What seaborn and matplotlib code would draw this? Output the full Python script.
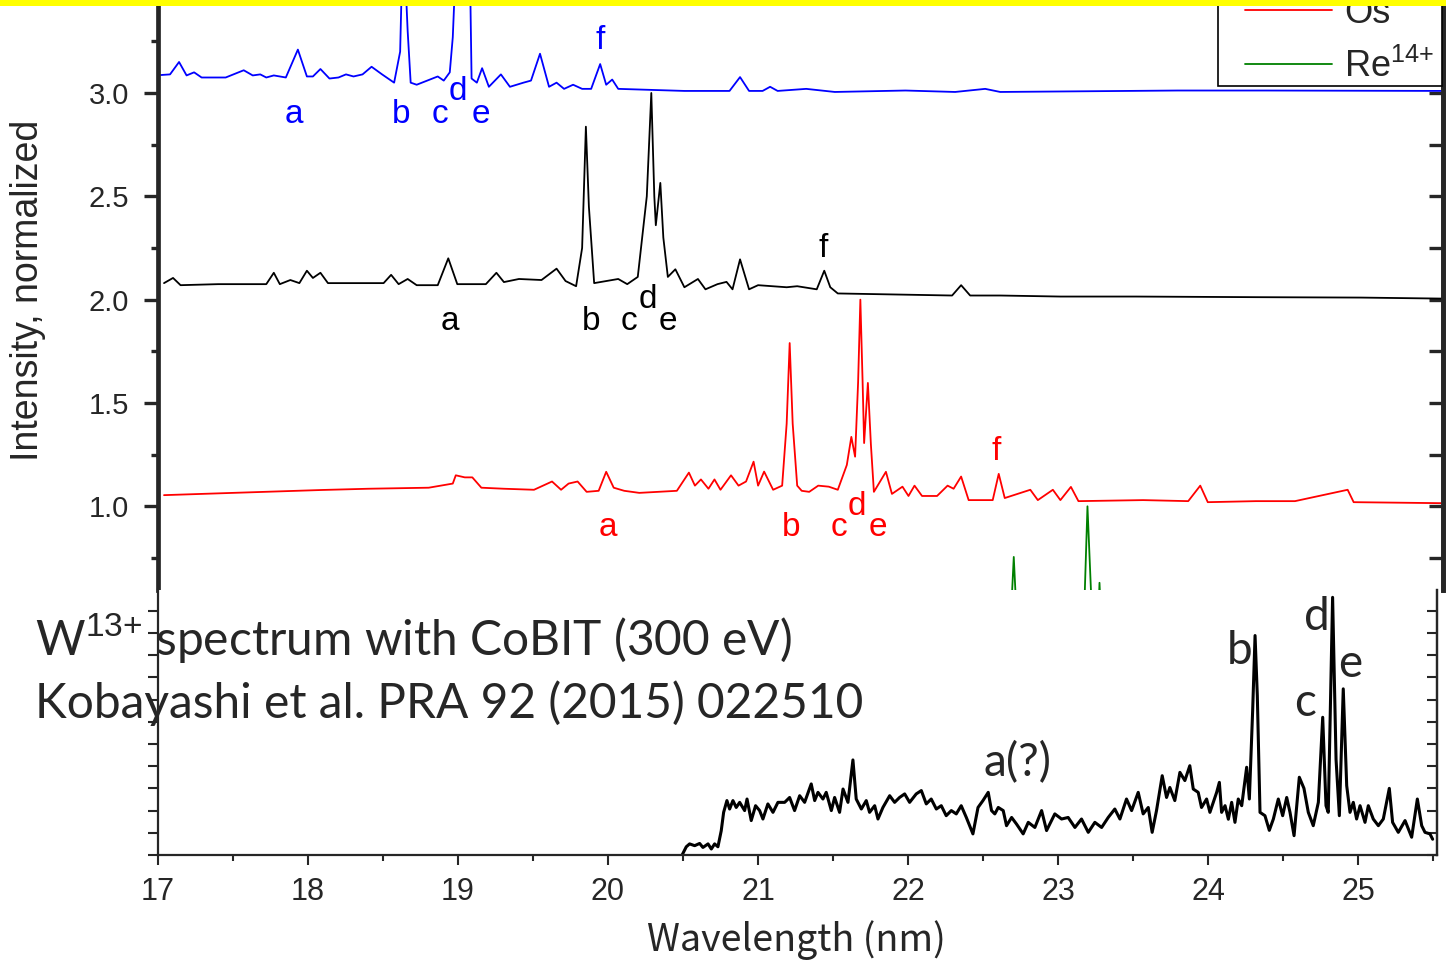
import matplotlib
matplotlib.use("Agg")
import matplotlib.pyplot as plt
import seaborn as sns
from matplotlib.patches import Rectangle

# ---------------- data ----------------
# top panel: normalized spectra, offset by 2 (blue), 1 (black), 0 (red)
w_blue = [17.02, 17.08, 17.14, 17.19, 17.24, 17.29, 17.45, 17.57, 17.63, 17.68, 17.72, 17.77,
          17.85, 17.93, 17.99, 18.03, 18.08, 18.14, 18.20, 18.25, 18.30, 18.36, 18.42, 18.49,
          18.57, 18.61, 18.63, 18.66, 18.68, 18.72, 18.79, 18.86, 18.90, 18.94, 18.96, 18.99,
          19.03, 19.07, 19.085, 19.12, 19.155, 19.20, 19.28, 19.34, 19.43, 19.48, 19.54, 19.60,
          19.65, 19.70, 19.76, 19.82, 19.88, 19.94, 19.98, 20.02, 20.06, 20.50, 20.80, 20.87,
          20.93, 21.02, 21.07, 21.12, 21.31, 21.50, 21.97, 22.30, 22.50, 22.60, 23.78, 24.08,
          24.36, 25.55]
i_blue = [3.087, 3.09, 3.15, 3.085, 3.10, 3.075, 3.075, 3.11, 3.085, 3.09, 3.075, 3.085,
          3.075, 3.21, 3.08, 3.08, 3.116, 3.07, 3.075, 3.09, 3.08, 3.09, 3.127, 3.09,
          3.05, 3.20, 3.80, 3.30, 3.05, 3.04, 3.06, 3.08, 3.06, 3.10, 3.27, 3.80,
          3.60, 3.80, 3.07, 3.05, 3.12, 3.03, 3.09, 3.03, 3.05, 3.06, 3.19, 3.03,
          3.05, 3.02, 3.04, 3.02, 3.02, 3.14, 3.04, 3.065, 3.02, 3.01, 3.01, 3.077,
          3.01, 3.01, 3.03, 3.01, 3.02, 3.005, 3.012, 3.005, 3.02, 3.005, 3.012, 3.012,
          3.012, 3.01]

w_black = [17.04, 17.10, 17.15, 17.40, 17.60, 17.72, 17.77, 17.81, 17.88, 17.94, 17.99, 18.03,
           18.08, 18.13, 18.50, 18.55, 18.60, 18.66, 18.72, 18.86, 18.93, 18.99, 19.18, 19.25,
           19.30, 19.40, 19.55, 19.65, 19.71, 19.78, 19.82, 19.845, 19.865, 19.90, 20.06, 20.12,
           20.19, 20.22, 20.25, 20.28, 20.30, 20.31, 20.34, 20.36, 20.39, 20.44, 20.50, 20.59,
           20.64, 20.72, 20.78, 20.82, 20.87, 20.93, 20.99, 21.18, 21.25, 21.38, 21.43, 21.47,
           21.52, 21.90, 22.28, 22.34, 22.40, 22.60, 23.00, 23.50, 24.30, 25.00, 25.55]
i_black = [2.08, 2.105, 2.07, 2.075, 2.075, 2.075, 2.13, 2.075, 2.095, 2.08, 2.14, 2.105,
           2.13, 2.08, 2.08, 2.12, 2.075, 2.10, 2.07, 2.07, 2.20, 2.075, 2.075, 2.13,
           2.085, 2.10, 2.095, 2.15, 2.09, 2.065, 2.25, 2.837, 2.45, 2.08, 2.10, 2.075,
           2.11, 2.305, 2.50, 3.00, 2.50, 2.36, 2.565, 2.30, 2.11, 2.147, 2.06, 2.10,
           2.05, 2.075, 2.086, 2.05, 2.195, 2.05, 2.07, 2.06, 2.065, 2.05, 2.14, 2.06,
           2.03, 2.025, 2.02, 2.07, 2.02, 2.02, 2.015, 2.015, 2.012, 2.01, 2.005]

w_os = [17.04, 17.50, 18.09, 18.40, 18.80, 18.96, 18.98, 19.04, 19.09, 19.15, 19.30, 19.50,
        19.62, 19.68, 19.73, 19.79, 19.85, 19.93, 19.98, 20.03, 20.10, 20.20, 20.45, 20.53,
        20.57, 20.61, 20.66, 20.70, 20.74, 20.81, 20.86, 20.91, 20.96, 20.99, 21.03, 21.09,
        21.15, 21.18, 21.20, 21.22, 21.25, 21.28, 21.33, 21.39, 21.46, 21.52, 21.58, 21.61,
        21.635, 21.655, 21.67, 21.685, 21.695, 21.72, 21.74, 21.76, 21.84, 21.88, 21.95, 21.99,
        22.03, 22.08, 22.18, 22.25, 22.29, 22.34, 22.39, 22.55, 22.59, 22.63, 22.80, 22.85,
        22.95, 23.00, 23.07, 23.12, 23.55, 23.85, 23.93, 23.98, 24.30, 24.56, 24.91, 24.95,
        25.55]
i_os = [1.054, 1.065, 1.079, 1.085, 1.09, 1.11, 1.15, 1.14, 1.14, 1.09, 1.085, 1.08,
        1.12, 1.08, 1.11, 1.12, 1.07, 1.075, 1.167, 1.09, 1.075, 1.065, 1.075, 1.163,
        1.10, 1.13, 1.085, 1.13, 1.08, 1.15, 1.10, 1.12, 1.216, 1.10, 1.168, 1.08,
        1.10, 1.40, 1.79, 1.40, 1.10, 1.075, 1.07, 1.10, 1.095, 1.08, 1.20, 1.336,
        1.24, 1.60, 2.00, 1.60, 1.306, 1.597, 1.30, 1.07, 1.167, 1.06, 1.095, 1.05,
        1.10, 1.05, 1.05, 1.10, 1.085, 1.144, 1.03, 1.03, 1.157, 1.04, 1.08, 1.03,
        1.08, 1.03, 1.094, 1.025, 1.03, 1.025, 1.10, 1.02, 1.025, 1.025, 1.08, 1.02,
        1.015]

w_re = [22.00, 22.66, 22.69, 22.72, 23.15, 23.18, 23.22, 23.245, 23.26, 23.28, 25.50]
i_re = [0.30, 0.30, 0.755, 0.30, 0.30, 1.00, 0.30, 0.30, 0.63, 0.30, 0.30]

# bottom panel: W13+ spectrum with CoBIT (arb. units)
w_cobit = [20.495, 20.522, 20.544, 20.578, 20.611, 20.633, 20.667, 20.689, 20.711, 20.733,
           20.755, 20.771, 20.793, 20.811, 20.833, 20.855, 20.878, 20.911, 20.927, 20.955,
           20.984, 21.011, 21.033, 21.066, 21.100, 21.133, 21.178, 21.211, 21.244, 21.278,
           21.311, 21.355, 21.378, 21.400, 21.433, 21.455, 21.489, 21.511, 21.544, 21.567,
           21.600, 21.633, 21.655, 21.689, 21.722, 21.744, 21.778, 21.800, 21.833, 21.878,
           21.911, 21.944, 21.978, 22.011, 22.055, 22.089, 22.122, 22.155, 22.189, 22.222,
           22.255, 22.289, 22.322, 22.355, 22.389, 22.433, 22.467, 22.500,
           22.535, 22.557, 22.579, 22.602, 22.635, 22.657, 22.691, 22.724, 22.768, 22.802,
           22.846, 22.891, 22.924, 22.979, 23.024, 23.068, 23.113, 23.157, 23.202, 23.246,
           23.291, 23.335, 23.379, 23.413, 23.457, 23.491, 23.535, 23.568, 23.602, 23.628,
           23.657, 23.695, 23.724, 23.746, 23.779, 23.813, 23.846, 23.879, 23.902, 23.935,
           23.957, 23.991, 24.013,
           24.058, 24.076, 24.091, 24.114, 24.136, 24.158, 24.180, 24.202, 24.225, 24.258,
           24.276, 24.298, 24.314, 24.329, 24.347, 24.380, 24.409, 24.436, 24.469, 24.498,
           24.525, 24.547, 24.574, 24.609, 24.640, 24.669, 24.702, 24.736, 24.765, 24.787,
           24.802, 24.831, 24.854, 24.876, 24.902, 24.925, 24.947, 24.969, 24.991, 25.014,
           25.047, 25.069, 25.102, 25.136, 25.169, 25.209, 25.231, 25.269, 25.314, 25.358,
           25.396, 25.425, 25.447, 25.480, 25.498]
i_cobit = [0.01, 0.37, 0.50, 0.42, 0.52, 0.34, 0.50, 0.27, 0.50, 0.37,
           1.09, 1.92, 2.45, 2.07, 2.45, 2.14, 2.37, 2.00, 2.52, 1.55,
           2.22, 2.00, 1.62, 2.30, 1.92, 2.37, 2.37, 2.59, 2.00, 2.67,
           2.37, 3.20, 2.45, 2.82, 2.52, 2.82, 2.00, 2.59, 1.92, 2.97,
           2.37, 4.28, 2.52, 2.07, 2.45, 1.92, 2.22, 1.62, 2.14, 2.67,
           2.37, 2.59, 2.75, 2.37, 2.75, 2.90, 2.30, 2.52, 2.07, 2.22,
           1.77, 2.00, 1.85, 2.22, 1.69, 0.95, 2.14, 2.45,
           2.82, 2.00, 1.85, 2.14, 2.00, 1.32, 1.69, 1.39, 0.95, 1.47,
           1.24, 2.00, 1.10, 1.85, 1.62, 1.69, 1.24, 1.62, 1.02, 1.47,
           1.24, 1.69, 2.07, 1.62, 2.52, 2.00, 2.82, 1.85, 2.14, 1.02,
           2.00, 3.57, 2.59, 3.04, 2.45, 3.72, 3.35, 4.02, 2.97, 2.82,
           2.14, 2.52, 1.92,
           2.82, 3.27, 1.92, 2.22, 1.61, 2.37, 1.47, 2.52, 2.22, 3.95,
           2.52, 6.50, 9.88, 7.18, 1.92, 1.77, 1.11, 1.62, 2.52, 1.77,
           2.59, 1.92, 0.87, 3.50, 3.00, 1.92, 1.32, 2.37, 6.20, 2.22,
           1.92, 11.60, 4.30, 1.77, 7.48, 3.12, 1.92, 2.37, 1.62, 2.22,
           1.47, 2.22, 1.62, 1.32, 1.62, 3.00, 1.47, 1.02, 1.55, 0.80,
           2.52, 1.32, 1.02, 0.95, 0.71]

top_letters = ["a", "b", "c", "d", "e", "f"]
top_label_x = {"blue": [17.904, 18.615, 18.875, 18.995, 19.148, 19.939],
               "black": [18.941, 19.878, 20.13, 20.258, 20.39, 21.421],
               "red": [19.992, 21.209, 21.528, 21.647, 21.787, 22.572]}
top_label_y = {"blue": [2.894, 2.894, 2.894, 3.005, 2.894, 3.252],
               "black": [1.893, 1.893, 1.893, 2.0, 1.893, 2.248],
               "red": [0.899, 0.899, 0.899, 1.0, 0.899, 1.266]}

bot_letters = ["a(?)", "b", "c", "d", "e"]
bot_label_x = [22.731, 24.211, 24.645, 24.725, 24.95]
bot_label_y = [4.16, 9.2, 6.86, 10.7, 8.6]

# ---------------- style ----------------
sns.set_theme(style="ticks")
plt.rcParams["font.family"] = ["Liberation Sans", "DejaVu Sans"]
plt.rcParams["mathtext.fontset"] = "custom"
plt.rcParams["mathtext.rm"] = "Liberation Sans"
plt.rcParams["mathtext.it"] = "Liberation Sans"

W, H = 1446, 960
fig = plt.figure(figsize=(W / 100, H / 100), dpi=100)
fig.patch.set_facecolor("white")

# ---------------- top panel ----------------
ax = fig.add_axes([158 / W, 370 / H, 1285 / W, 590 / H])
ax.set_facecolor("white")
sns.lineplot(x=w_blue, y=i_blue, ax=ax, color="#0000ff", lw=1.3, estimator=None, sort=False)
sns.lineplot(x=w_black, y=i_black, ax=ax, color="black", lw=1.3, estimator=None, sort=False)
sns.lineplot(x=w_os, y=i_os, ax=ax, color="#ff0000", lw=1.3, estimator=None, sort=False, label="Os")
sns.lineplot(x=w_re, y=i_re, ax=ax, color="#008000", lw=1.3, estimator=None, sort=False,
             label="Re$^{14{+}}$")
ax.set_xlim(17, 25.544)
ax.set_ylim(0.595, 3.45)

for s in ["top", "bottom"]:
    ax.spines[s].set_visible(False)
ax.spines["left"].set_linewidth(3.4)
ax.spines["right"].set_linewidth(3.4)
ax.set_xticks([])
ax.set_yticks([1.0, 1.5, 2.0, 2.5, 3.0])
ax.set_yticklabels(["1.0", "1.5", "2.0", "2.5", "3.0"])
ax.set_yticks([0.75, 1.25, 1.75, 2.25, 2.75, 3.25], minor=True)
ax.tick_params(axis="y", which="major", direction="out", length=10, width=2.4, pad=11,
               labelsize=21, left=True, right=False)
ax.tick_params(axis="y", which="minor", direction="out", length=5, width=2.4, left=True, right=False)
sec = ax.secondary_yaxis("right")
sec.set_yticks([0.75, 1.0, 1.25, 1.5, 1.75, 2.0, 2.25, 2.5, 2.75, 3.0, 3.25])
sec.tick_params(direction="in", length=10, width=2.4, labelright=False)
sec.spines["right"].set_linewidth(3.4)
ax.set_ylabel("Intensity, normalized", fontsize=27, va="center")
ax.yaxis.set_label_coords(-0.101, 0.508)

colors = {"blue": "#0000ff", "black": "black", "red": "#ff0000"}
for key in ["blue", "black", "red"]:
    for t, x, y in zip(top_letters, top_label_x[key], top_label_y[key]):
        ax.text(x, y, t, color=colors[key], fontsize=24, ha="center", va="center")

# legend: the box runs off the top edge of the picture
handles, labels = ax.get_legend_handles_labels()
ax.get_legend().remove()
fig.patches.append(Rectangle((1218 / W, 1 - 86 / H), 224 / W, 120 / H, transform=fig.transFigure,
                             facecolor="white", edgecolor="black", lw=1.2, zorder=4))
leg = fig.legend(handles, labels, loc="lower left", bbox_to_anchor=(1245 / W, 1 - 85 / H),
                 fontsize=26, frameon=False, handlelength=2.4, handletextpad=0.35,
                 borderpad=0, labelspacing=0.5, borderaxespad=0)
leg.set_zorder(6)

# ---------------- bottom panel ----------------
bx = fig.add_axes([158 / W, 105 / H, 1279 / W, 265 / H])
bx.set_facecolor("white")
sns.lineplot(x=w_cobit, y=i_cobit, ax=bx, color="black", lw=2.2, estimator=None, sort=False)
bx.set_xlim(17, 25.527)
bx.set_ylim(0, 11.93)
bx.spines["top"].set_visible(False)
for s in ["left", "right", "bottom"]:
    bx.spines[s].set_linewidth(1.6)
bx.set_xticks(range(17, 26))
bx.set_xticks([17.5 + k for k in range(9)], minor=True)
bx.tick_params(axis="x", which="major", direction="out", length=7, width=1.5, pad=9)
bx.tick_params(axis="x", which="minor", direction="out", length=4, width=1.5)
for lab in bx.get_xticklabels():
    lab.set_fontsize(22)
bx.set_yticks(range(0, 12))
bx.set_yticklabels([])
bx.tick_params(axis="y", direction="out", length=7, width=1.5, left=True, right=False)
sec2 = bx.secondary_yaxis("right")
sec2.set_yticks(range(0, 12))
sec2.tick_params(direction="in", length=7, width=1.5, labelright=False)
sec2.spines["right"].set_linewidth(1.6)
bx.set_xlabel("Wavelength (nm)", fontsize=27, family=["Noto Sans CJK JP", "DejaVu Sans"],
              va="center")
bx.xaxis.set_label_coords(0.499, -0.32)
bx.set_ylabel("")

for t, x, y in zip(bot_letters, bot_label_x, bot_label_y):
    bx.text(x, y, t, fontsize=33, family=["Lato", "DejaVu Sans"], ha="center", va="center")

fig.text(35 / W, 1 - 655 / H, "W$^{13{+}}$ spectrum with CoBIT (300 eV)", fontsize=34.5,
         family=["Lato", "DejaVu Sans"], ha="left", va="baseline")
fig.text(35 / W, 1 - 718 / H, "Kobayashi et al. PRA 92 (2015) 022510", fontsize=34.5,
         family=["Lato", "DejaVu Sans"], ha="left", va="baseline")

# yellow strip across the very top
fig.patches.append(Rectangle((0, 1 - 6 / H), 1, 6 / H, transform=fig.transFigure,
                             facecolor="#ffff00", edgecolor="none", zorder=20))

fig.savefig("out.png", dpi=100)
